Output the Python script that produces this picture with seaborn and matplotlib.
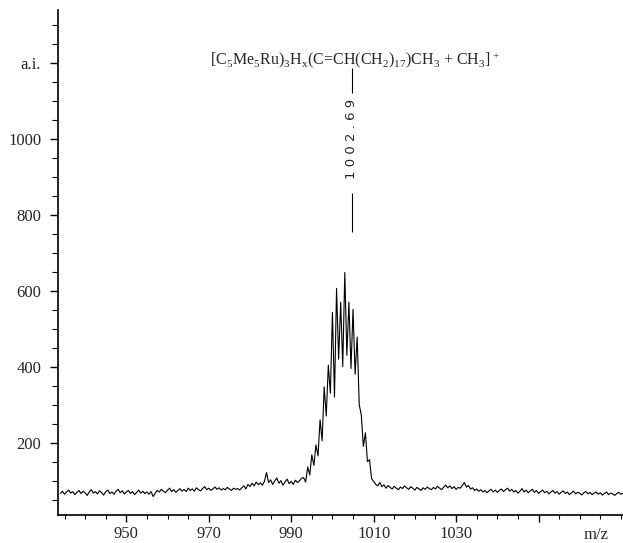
import numpy as np
import pandas as pd
import matplotlib.pyplot as plt
import seaborn as sns
from matplotlib.ticker import MultipleLocator

# spectrum sampled every 0.5 m/z starting at 934.0
mz_start = 934.0
mz_step = 0.5
intensity = [
    66, 72, 64, 70, 75, 67, 71, 63, 69, 74, 66, 72, 68, 61, 70, 76, 67, 71, 65, 73,
    68, 62, 71, 75, 66, 70, 64, 72, 77, 68, 73, 65, 70, 74, 66, 71, 63, 69, 75, 67,
    72, 66, 70, 64, 71, 58, 67, 74, 70, 77, 72, 68, 75, 80, 71, 76, 69, 74, 79, 72,
    77, 71, 80, 74, 78, 72, 81, 76, 73, 79, 84, 76, 80, 74, 78, 83, 77, 81, 75, 79,
    76, 82, 78, 74, 80, 77, 79, 75, 81, 86, 78, 90, 84, 93, 86, 96, 89, 94, 88, 98,
    121, 95, 102, 90, 99, 107, 93, 100, 88, 96, 104, 92, 98, 90, 101, 95, 99, 106, 108, 96,
    136, 115, 168, 140, 194, 165, 260, 205, 347, 270, 404, 330, 543, 320, 606, 420, 570, 400, 648, 430,
    570, 395, 551, 380, 478, 300, 273, 190, 226, 150, 155, 105, 98, 90, 86, 95, 84, 89, 80, 87,
    82, 78, 85, 80, 76, 83, 79, 86, 81, 77, 84, 80, 75, 82, 78, 74, 81, 77, 83, 79,
    76, 82, 78, 85, 80, 76, 83, 88, 81, 86, 79, 84, 77, 82, 80, 87, 95, 83, 87, 78,
    81, 74, 78, 72, 76, 70, 74, 68, 73, 77, 70, 75, 69, 74, 78, 71, 76, 80, 72, 77,
    70, 74, 67, 72, 79, 70, 75, 68, 73, 77, 69, 74, 66, 71, 75, 68, 72, 65, 70, 74,
    67, 71, 64, 69, 73, 66, 70, 63, 68, 72, 65, 69, 67, 62, 68, 71, 65, 69, 63, 67,
    70, 64, 68, 62, 66, 70, 63, 67, 65, 61, 66, 69, 64, 67,
]

x_ticks = [950, 970, 990, 1010, 1030, 1050]
x_labels = ['950', '970', '990', '1010', '1030', '']
y_ticks = [200, 400, 600, 800, 1000, 1200]
y_labels = ['200', '400', '600', '800', '1000', 'a.i.']

formula = r'[C$_5$Me$_5$Ru)$_3$H$_x$(C=CH(CH$_2$)$_{17}$)CH$_3$ + CH$_3$]$^+$'
peak_mz = 1004.7
peak_label = '1002.69'

df = pd.DataFrame({
    'mz': mz_start + mz_step * np.arange(len(intensity)),
    'intensity': intensity,
})

sns.set_style("ticks")
plt.rcParams['font.family'] = ['Liberation Serif', 'DejaVu Serif']
plt.rcParams['mathtext.default'] = 'regular'

fig = plt.figure(figsize=(6.23, 5.43), dpi=100)
ax = fig.add_axes([0.093, 0.052, 0.907, 0.930])

sns.lineplot(data=df, x='mz', y='intensity', color='black', linewidth=0.8,
             sort=False, errorbar=None, ax=ax)

ax.set_xlim(933.4, 1070.5)
ax.set_ylim(10, 1340)
sns.despine(ax=ax)
for s in ['left', 'bottom']:
    ax.spines[s].set_linewidth(1.2)
    ax.spines[s].set_color('black')

ax.set_xticks(x_ticks)
ax.set_xticklabels(x_labels)
ax.set_yticks(y_ticks)
ax.set_yticklabels(y_labels)
ax.xaxis.set_minor_locator(MultipleLocator(5))
ax.yaxis.set_minor_locator(MultipleLocator(50))
ax.tick_params(axis='x', which='major', length=5, width=1, pad=3, labelsize=12, color='black')
ax.tick_params(axis='x', which='minor', length=3, width=0.8, color='black')
ax.tick_params(axis='y', which='major', length=6, width=1, pad=6, labelsize=12, color='black')
ax.tick_params(axis='y', which='minor', length=4, width=0.8, color='black')

ax.set_ylabel('')
ax.set_xlabel('m/z', fontsize=12)
ax.xaxis.set_label_coords(0.952, -0.024)

ax.text(1005.4, 1208, formula, ha='center', va='center', fontsize=11.5)
ax.vlines(peak_mz, 1121, 1187, color='black', linewidth=0.8)
ax.vlines(peak_mz, 755, 858, color='black', linewidth=0.8)
ax.text(peak_mz, 1000, ' '.join(peak_label), rotation=90, ha='center', va='center',
        fontsize=9.5, family='DejaVu Sans')

plt.savefig('out.png', dpi=100)
